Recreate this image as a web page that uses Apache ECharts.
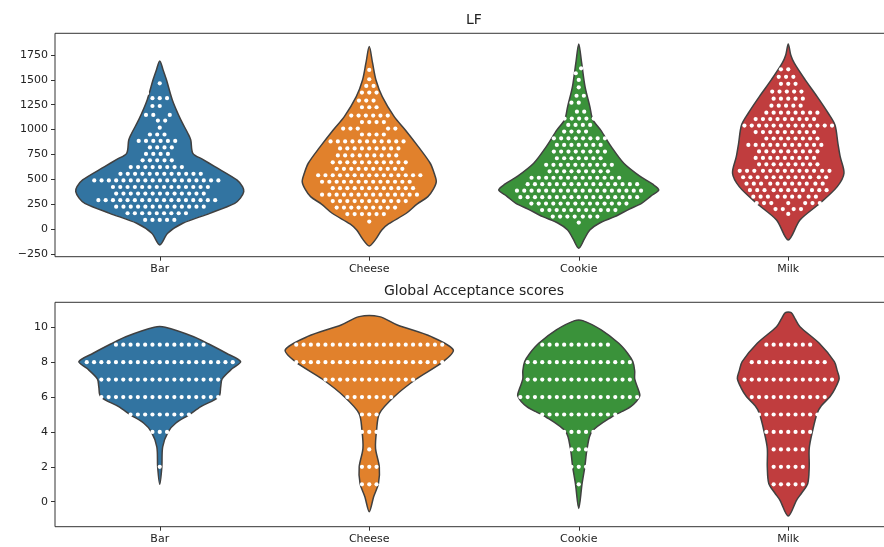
<!DOCTYPE html>
<html>
<head>
<meta charset="utf-8">
<title>LF / Global Acceptance scores</title>
<script src="https://cdn.jsdelivr.net/npm/echarts@6/dist/echarts.min.js"></script>
<style>
  html, body { margin: 0; padding: 0; background: #fff; }
  #chart { width: 884px; height: 547px; }
</style>
</head>
<body>
<div id="chart"></div>
<script>
const categories = ['Bar', 'Cheese', 'Cookie', 'Milk'];
const palette = ['#3274a1', '#e1812c', '#3a923a', '#c03d3e'];
const lfTicks = [-250, 0, 250, 500, 750, 1000, 1250, 1500, 1750];
const gaTicks = [0, 2, 4, 6, 8, 10];

// LF: swarm points as [value, how many points at that value]
const lfBarCounts = [[91,5],[158,9],[224,13],[290,17],[356,13],[422,14],[488,18],[555,12],[622,8],[690,5],[755,4],[820,4],[885,6],[950,3],[1019,1],[1090,2],[1147,3],[1237,2],[1315,3],[1365,1],[1465,1]];
const lfCheeseCounts = [[74,1],[150,6],[215,9],[280,11],[345,14],[410,12],[475,13],[540,15],[605,10],[670,11],[740,9],[810,9],[880,11],[950,4],[1010,5],[1075,4],[1140,6],[1224,3],[1291,3],[1372,3],[1439,2],[1506,1],[1600,1]];
const lfCookieCounts = [[64,1],[125,7],[190,11],[255,14],[320,17],[385,18],[450,16],[515,13],[580,9],[645,10],[711,7],[778,8],[845,7],[912,8],[980,4],[1046,4],[1110,5],[1180,2],[1270,2],[1340,2],[1425,1],[1499,1],[1566,1],[1616,2]];
const lfMilkCounts = [[151,1],[200,4],[260,8],[325,9],[390,11],[455,11],[520,12],[585,13],[650,9],[715,9],[780,9],[845,11],[910,8],[975,9],[1040,13],[1105,9],[1170,8],[1240,5],[1310,5],[1382,5],[1460,3],[1530,3],[1606,2]];

// LF violin outlines: [value, half width as share of the category band]
const lfShapeBar = [[1690,0],[1600,.016],[1500,.032],[1298,.060],[1100,.100],[963,.134],[895,.148],[761,.158],[700,.205],[627,.263],[493,.368],[425,.395],[375,.401],[310,.385],[258,.358],[157,.239],[57,.110],[-43,.038],[-161,0]];
const lfShapeCheese = [[1834,0],[1667,.016],[1499,.032],[1331,.062],[1130,.119],[996,.172],[828,.234],[661,.291],[560,.31],[476,.32],[400,.306],[325,.28],[250,.228],[158,.177],[50,.092],[-10,.06],[-100,.032],[-171,0]];
const lfShapeCookie = [[1861,0],[1667,.014],[1432,.030],[1231,.053],[1100,.067],[996,.104],[828,.155],[661,.215],[526,.295],[450,.353],[392,.382],[330,.344],[258,.30],[200,.242],[124,.172],[60,.100],[-10,.053],[-100,.027],[-194,0]];
const lfShapeMilk = [[1861,0],[1750,.012],[1667,.029],[1499,.081],[1331,.138],[1164,.191],[1046,.223],[862,.237],[727,.248],[560,.266],[426,.234],[258,.151],[90,.056],[-111,0]];

// Global Acceptance: [score, number of answers]
const gaBarCounts = [[2,1],[4,3],[5,9],[6,17],[7,17],[8,21],[9,13]];
const gaCheeseCounts = [[1,3],[2,3],[3,1],[4,3],[5,3],[6,7],[7,13],[8,21],[9,21]];
const gaCookieCounts = [[1,1],[2,3],[3,3],[4,5],[5,13],[6,17],[7,15],[8,15],[9,10]];
const gaMilkCounts = [[1,5],[2,5],[3,5],[4,7],[5,9],[6,11],[7,13],[8,11],[9,7]];

const gaShapeBar = [[10.0,.026],[9.46,.162],[9.04,.234],[8.51,.318],[8.03,.386],[7.65,.348],[7.04,.298],[6.59,.291],[6.02,.282],[5.45,.196],[4.97,.138],[4.5,.076],[4.01,.040],[3.15,.014],[2.0,.010],[1.0,0]];
const gaShapeCheese = [[10.61,.048],[10.13,.134],[9.46,.296],[8.70,.401],[8.03,.353],[7.02,.223],[6.02,.119],[5.07,.049],[4.11,.035],[3.06,.030],[2.0,.048],[1.05,.044],[0.29,.021],[-0.57,0]];
const gaShapeCookie = [[10.38,.019],[9.85,.107],[9.08,.191],[8.5,.234],[8.03,.258],[7.5,.267],[7.04,.267],[6.5,.282],[6.06,.291],[5.45,.248],[4.87,.158],[4.01,.062],[3.06,.040],[2.0,.029],[1.05,.016],[-0.38,0]];
const gaShapeMilk = [[10.84,.014],[10.5,.032],[10.03,.056],[9.08,.148],[8.03,.220],[7.5,.234],[7.07,.243],[6.5,.224],[6.02,.199],[5.5,.158],[5.07,.138],[4.01,.115],[3.06,.100],[2.0,.100],[1.05,.093],[0.5,.064],[0.1,.040],[-0.82,0]];

const FONT = 'DejaVu Sans';
const INK = '#222';

function violinItem(shapes) {
  return function (params, api) {
    const i = params.dataIndex;
    const band = api.size([1, 0])[0];
    const left = [], right = [];
    shapes[i].forEach(function (s) {
      const p = api.coord([i, s[0]]);
      const w = s[1] * band;
      left.push([p[0] - w, p[1]]);
      if (w > 0) right.push([p[0] + w, p[1]]);
    });
    return {
      type: 'polygon',
      shape: { points: left.concat(right.reverse()), smooth: 0.3 },
      style: { fill: palette[i], stroke: '#404040', lineWidth: 1.5 }
    };
  };
}

// beeswarm placement like seaborn: nearest free spot to the middle
function swarmItem(tables, d, r) {
  return function (params, api) {
    const i = params.dataIndex;
    const limit = 0.4 * api.size([1, 0])[0];
    const vals = [];
    tables[i].forEach(function (row) {
      for (let k = 0; k < row[1]; k++) vals.push(row[0]);
    });
    vals.sort(function (a, b) { return a - b; });
    const placed = [];
    const children = [];
    vals.forEach(function (v) {
      const p = api.coord([i, v]);
      const y = p[1];
      const nb = placed.filter(function (q) { return Math.abs(q[1] - y) < d; });
      const cands = [0];
      nb.forEach(function (q) {
        const dy = y - q[1];
        const dx = Math.sqrt(d * d - dy * dy);
        cands.push(q[0] - dx, q[0] + dx);
      });
      const order = cands.map(function (c, k) { return { c: c, k: k, a: Math.round(Math.abs(c) * 1000) }; })
        .sort(function (a, b) { return a.a - b.a || a.k - b.k; });
      let x = order[order.length - 1].c;
      for (const o of order) {
        if (nb.every(function (q) { return (o.c - q[0]) ** 2 + (y - q[1]) ** 2 >= d * d - 0.01; })) { x = o.c; break; }
      }
      placed.push([x, y]);
      const xc = Math.max(-limit, Math.min(limit, x));
      children.push({ type: 'circle', shape: { cx: p[0] + xc, cy: y, r: r }, style: { fill: '#fff' } });
    });
    return { type: 'group', children: children };
  };
}

const slots = [[0, 0], [1, 0], [2, 0], [3, 0]];
const minus = function (v) { return String(v).replace('-', '\u2212'); };

function xAxisFor(idx) {
  return {
    gridIndex: idx, type: 'category', data: categories, position: 'bottom',
    axisLine: { show: false, onZero: false },
    axisTick: { show: true, alignWithLabel: true, length: 4, lineStyle: { color: '#333' } },
    axisLabel: { margin: 7, fontSize: 11, color: INK, fontFamily: FONT },
    splitLine: { show: false }
  };
}
function yAxisFor(idx, min, max, ticks) {
  return {
    gridIndex: idx, type: 'value', min: min, max: max, position: 'left',
    axisLine: { show: false, onZero: false },
    splitLine: { show: false },
    axisTick: { show: true, length: 4, customValues: ticks, lineStyle: { color: '#333' } },
    axisLabel: { customValues: ticks, formatter: minus, margin: 7, fontSize: 11, color: INK, fontFamily: FONT }
  };
}

const myChart = echarts.init(document.getElementById('chart'));
myChart.setOption({
  animation: false,
  grid: [
    { left: 55, top: 33.3, width: 838, height: 223.4, show: true, borderColor: '#333', borderWidth: 1, outerBoundsMode: 'none' },
    { left: 55, top: 302.3, width: 838, height: 224.4, show: true, borderColor: '#333', borderWidth: 1, outerBoundsMode: 'none' }
  ],
  xAxis: [xAxisFor(0), xAxisFor(1)],
  yAxis: [yAxisFor(0, -279, 1968, lfTicks), yAxisFor(1, -1.43, 11.43, gaTicks)],
  graphic: [
    { type: 'text', x: 474, y: 20, style: { text: 'LF', fill: INK, fontSize: 14, fontFamily: FONT, align: 'center', verticalAlign: 'middle' } },
    { type: 'text', x: 474, y: 291, style: { text: 'Global Acceptance scores', fill: INK, fontSize: 14, fontFamily: FONT, align: 'center', verticalAlign: 'middle' } }
  ],
  series: [
    { type: 'custom', xAxisIndex: 0, yAxisIndex: 0, data: slots, z: 2, silent: true,
      renderItem: violinItem([lfShapeBar, lfShapeCheese, lfShapeCookie, lfShapeMilk]) },
    { type: 'custom', xAxisIndex: 0, yAxisIndex: 0, data: slots, z: 3, silent: true,
      renderItem: swarmItem([lfBarCounts, lfCheeseCounts, lfCookieCounts, lfMilkCounts], 7.3, 2.1) },
    { type: 'custom', xAxisIndex: 1, yAxisIndex: 1, data: slots, z: 2, silent: true,
      renderItem: violinItem([gaShapeBar, gaShapeCheese, gaShapeCookie, gaShapeMilk]) },
    { type: 'custom', xAxisIndex: 1, yAxisIndex: 1, data: slots, z: 3, silent: true,
      renderItem: swarmItem([gaBarCounts, gaCheeseCounts, gaCookieCounts, gaMilkCounts], 7.3, 2.1) }
  ]
});
</script>
</body>
</html>
